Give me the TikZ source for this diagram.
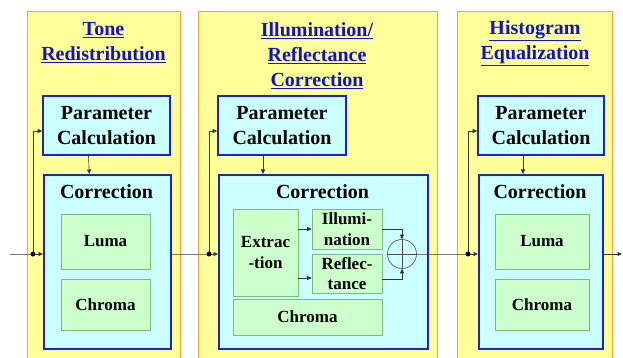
\documentclass[tikz,border=0pt]{standalone}
\usepackage{fontspec}
\setmainfont{Liberation Serif}
\usepackage{xcolor}
\usepackage{tikz}
\usetikzlibrary{arrows.meta}
\definecolor{paneyellow}{HTML}{FFFF99}
\definecolor{paneorange}{HTML}{F2A33A}
\definecolor{boxblue}{HTML}{1E22CC}
\definecolor{boxcyan}{HTML}{CCFFFF}
\definecolor{innergreen}{HTML}{CCFFCC}
\definecolor{innerline}{HTML}{7DBB7D}
\definecolor{titleblue}{HTML}{1212C8}

\begin{document}
\begin{tikzpicture}[
    x=1pt, y=-1pt,
    panel/.style={draw=paneorange, fill=paneyellow, line width=1.3pt, anchor=north west},
    title/.style={align=center, text=titleblue, font=\fontsize{20}{25}\selectfont\bfseries},
    param/.style={draw=boxblue, fill=boxcyan, line width=1.6pt, align=center,
        font=\fontsize{20}{25}\selectfont\bfseries},
    corr/.style={draw=boxblue, fill=boxcyan, line width=1.6pt, anchor=north west},
    head/.style={font=\fontsize{20}{25}\selectfont\bfseries},
    inner/.style={draw=innerline, fill=innergreen, line width=0.7pt, align=center,
        font=\fontsize{17}{20.5}\selectfont\bfseries},
    joint/.style={circle, fill=black, inner sep=0pt, minimum size=5pt},
    arrow/.style={-{Triangle[length=4.5pt,width=4pt]}, line width=0.6pt, draw=black!80}
]
    \useasboundingbox (0,0) rectangle (623,358);

    % the three stages
    \node[panel, minimum width=153, minimum height=365] (P1) at (27,11) {};
    \node[panel, minimum width=239, minimum height=365] (P2) at (198,11) {};
    \node[panel, minimum width=155, minimum height=365] (P3) at (457,11) {};

    \node[title] (T1) at (103.5,43) {\underline{Tone}\\\underline{Redistribution}};
    \node[title] (T2) at (317,56) {\underline{Illumination/}\\\underline{Reflectance}\\\underline{Correction}};
    \node[title] (T3) at (535,43) {\underline{Histogram}\\\underline{Equalization}};

    % parameter boxes
    \node[param, minimum width=127, minimum height=59] (PC1) at (106.5,125.5) {Parameter\\Calculation};
    \node[param, minimum width=128, minimum height=59] (PC2) at (282,125.5) {Parameter\\Calculation};
    \node[param, minimum width=126, minimum height=59] (PC3) at (541,125.5) {Parameter\\Calculation};

    % correction boxes
    \node[corr, minimum width=127, minimum height=174] (C1) at (43,174) {};
    \node[corr, minimum width=209, minimum height=174] (C2) at (218,174) {};
    \node[corr, minimum width=124, minimum height=174] (C3) at (478,174) {};
    \node[head] (H1) at (106.5,192) {Correction};
    \node[head] (H2) at (322.5,192) {Correction};
    \node[head] (H3) at (540,192) {Correction};

    \node[inner, minimum width=89, minimum height=55] (L1) at (105.5,241.5) {Luma};
    \node[inner, minimum width=89, minimum height=51] (K1) at (105.5,304.5) {Chroma};
    \node[inner, minimum width=94, minimum height=55] (L3) at (542,241.5) {Luma};
    \node[inner, minimum width=94, minimum height=51] (K3) at (542,304.5) {Chroma};

    \node[inner, minimum width=65, minimum height=87] (Ex) at (265.5,252.5) {Extrac\\-tion};
    \node[inner, minimum width=70, minimum height=40] (Il) at (347,229) {Illumi-\\nation};
    \node[inner, minimum width=70, minimum height=39] (Re) at (347,273.5) {Reflec-\\tance};
    \node[inner, minimum width=149, minimum height=36] (K2) at (307.5,317) {Chroma};
    \node[circle, draw=black!70, line width=0.6pt, minimum size=29pt, inner sep=0pt] (sum) at (402,254) {};
    \draw[black!70, line width=0.6pt] (sum.north) -- (sum.south) (sum.west) -- (sum.east);

    % signal path
    \coordinate (in) at (10,254);
    \coordinate (j1) at (33,254);
    \coordinate (j2) at (209,254);
    \coordinate (j3) at (468,254);
    \coordinate (out) at (622,254);

    \draw[arrow] (in) -- (j1) -- (C1.west |- j1);
    \draw[arrow] (j1) |- ([yshift=-5.5pt]PC1.west);
    \draw[arrow] ([xshift=-18pt]PC1.south) -- ([xshift=-18pt]C1.north);

    \draw[arrow] (C1.east |- j2) -- (j2) -- (C2.west |- j2);
    \draw[arrow] (j2) |- ([yshift=-5.5pt]PC2.west);
    \draw[arrow] ([xshift=-19pt]PC2.south) coordinate (a2) -- (a2 |- C2.north);

    \draw[arrow] (Ex.east |- Il.west) -- (Il.west);
    \draw[arrow] ([yshift=-4.5pt]Ex.east |- Re.west) -- ([yshift=-4.5pt]Re.west);
    \draw[arrow] (Il.east) -| (sum.north);
    \draw[arrow] ([yshift=-5.5pt]Re.east) -| (sum.south);

    \draw[arrow] (sum.east) -- (j3) -- (C3.west |- j3);
    \draw[arrow] (j3) |- ([yshift=-5.5pt]PC3.west);
    \draw[arrow] ([xshift=-18pt]PC3.south) coordinate (a3) -- (a3 |- C3.north);
    \draw[arrow] (C3.east |- j3) -- (out);

    \node[joint] (d1) at (j1) {};
    \node[joint] (d2) at (j2) {};
    \node[joint] (d3) at (j3) {};
\end{tikzpicture}
\end{document}
